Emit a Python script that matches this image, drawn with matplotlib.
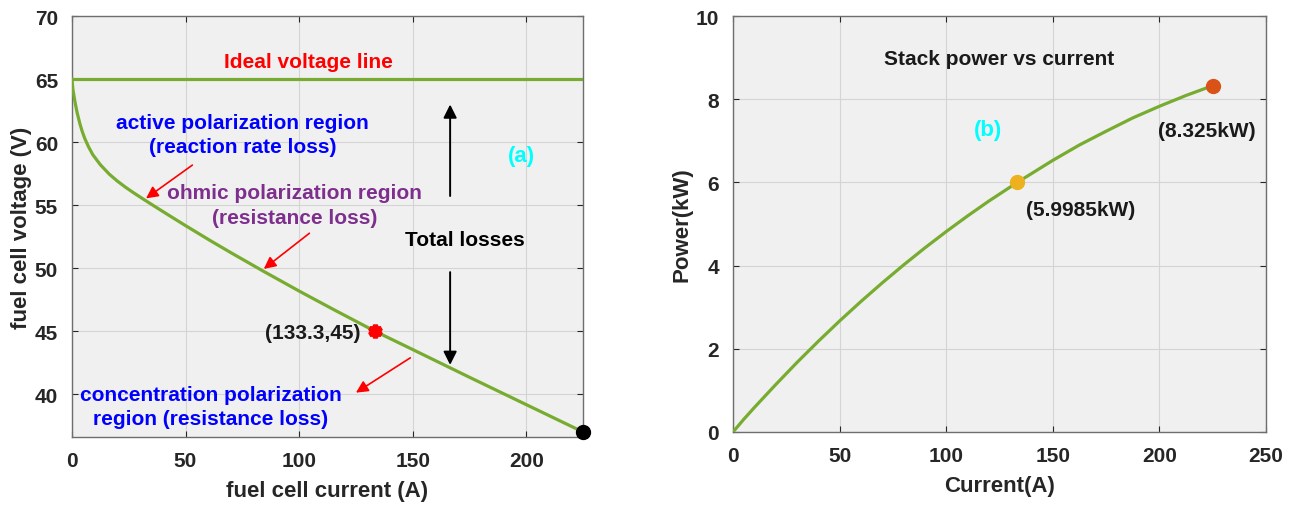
import matplotlib
matplotlib.use("Agg")
from matplotlib import pyplot as plt

plt.rcParams['font.family'] = ['Liberation Sans', 'DejaVu Sans']
plt.rcParams['font.weight'] = 'bold'
plt.rcParams['axes.labelweight'] = 'bold'

# V-I curve
current = [0, 0.4, 1.3, 2.3, 3.5, 4.5, 5.6, 7.3, 9.2, 12.5, 16.5, 20, 23.7, 27.5,
           31.6, 37, 42.4, 50, 61, 70, 84, 100, 115, 133.3, 150, 175, 200, 225]
voltage = [65, 64.2, 63.21, 62.31, 61.45, 60.85, 60.3, 59.62, 58.99, 58.2, 57.44,
           56.9, 56.4, 55.93, 55.45, 54.83, 54.22, 53.37, 52.17, 51.22, 49.78,
           48.18, 46.73, 45.0, 43.54, 41.34, 39.17, 37.0]
ideal_current = [0, 225]
ideal_voltage = [65, 65]

# stack power curve
power_current = [0, 5, 10, 20, 30, 40, 50, 60, 70, 80, 90, 100, 110, 120, 133.3,
                 150, 162.5, 175, 187.5, 200, 212.5, 225]
power_kw = [0, 0.303, 0.588, 1.138, 1.671, 2.18, 2.669, 3.137, 3.585, 4.015,
            4.426, 4.818, 5.193, 5.551, 5.9985, 6.53, 6.90, 7.23, 7.55, 7.83,
            8.09, 8.325]

op_point = (133.3, 45)
end_point = (225, 37)
op_power = (133.3, 5.9985)
max_power = (225, 8.325)

green = '#77ac30'
bg = '#f0f0f0'
grid_c = '#d4d4d4'
fs = 15
tick_fs = 15
label_fs = 16

fig = plt.figure(figsize=(12.99, 5.06), dpi=100)
ax1 = fig.add_axes([0.0554, 0.1344, 0.3934, 0.832])
ax2 = fig.add_axes([0.5643, 0.1443, 0.4103, 0.8221])

for ax in (ax1, ax2):
    ax.set_facecolor(bg)
    ax.grid(True, color=grid_c, linewidth=0.8)
    ax.set_axisbelow(True)
    for s in ax.spines.values():
        s.set_color('#6e6e6e')
        s.set_linewidth(1.0)
    ax.tick_params(labelsize=tick_fs, colors='#262626', direction='in', length=4,
                   top=True, right=True, pad=10)

# ---- panel (a)
ax1.plot(ideal_current, ideal_voltage, color=green, lw=2.3, zorder=3)
ax1.plot(current, voltage, color=green, lw=2.3, zorder=3)
ax1.plot(*op_point, marker=(6, 1, 0), color='red', mec='red', mew=3.5, ms=9, zorder=4)
ax1.plot(*end_point, marker='o', color='black', ms=10, zorder=4, clip_on=False)
ax1.set_xlim(0, 225)
ax1.set_ylim(36.6, 70)
ax1.set_xticks([0, 50, 100, 150, 200])
ax1.set_yticks([40, 45, 50, 55, 60, 65, 70])
ax1.set_xlabel('fuel cell current (A)', fontsize=label_fs, color='#262626', labelpad=7)
ax1.set_ylabel('fuel cell voltage (V)', fontsize=label_fs, color='#262626', labelpad=2)

ax1.text(104, 66.4, 'Ideal voltage line', color='red', fontsize=fs,
         ha='center', va='center')
ax1.text(75, 60.6, 'active polarization region\n(reaction rate loss)', color='blue',
         fontsize=fs, ha='center', va='center', linespacing=1.35)
ax1.text(98, 55.0, 'ohmic polarization region\n(resistance loss)', color='#7e2f8e',
         fontsize=fs, ha='center', va='center', linespacing=1.35)
ax1.text(173, 52.3, 'Total losses', color='black', fontsize=fs,
         ha='center', va='center')
ax1.text(198, 58.9, '(a)', color='cyan', fontsize=fs + 1, ha='center', va='center')
ax1.text(127, 44.9, '(133.3,45)', color='#1a1a1a', fontsize=fs,
         ha='right', va='center')
ax1.text(61, 39.0, 'concentration polarization\nregion (resistance loss)', color='blue',
         fontsize=fs, ha='center', va='center', linespacing=1.35)

red_arrow = dict(arrowstyle='-|>', color='red', lw=1.2, mutation_scale=18)
ax1.annotate('', xy=(31.6, 55.4), xytext=(54, 58.3), arrowprops=red_arrow)
ax1.annotate('', xy=(83.5, 49.8), xytext=(105.5, 52.9), arrowprops=red_arrow)
ax1.annotate('', xy=(124, 40.0), xytext=(150, 43.0), arrowprops=red_arrow)
black_arrow = dict(arrowstyle='-|>', color='black', lw=1.4, mutation_scale=20)
ax1.annotate('', xy=(166.5, 63.2), xytext=(166.5, 55.5), arrowprops=black_arrow)
ax1.annotate('', xy=(166.5, 42.1), xytext=(166.5, 49.9), arrowprops=black_arrow)

# ---- panel (b)
ax2.plot(power_current, power_kw, color=green, lw=2.3, zorder=3)
ax2.plot(*op_power, marker='o', color='#edb120', ms=10, zorder=4)
ax2.plot(*max_power, marker='o', color='#d95319', ms=10, zorder=4)
ax2.set_xlim(0, 250)
ax2.set_ylim(0, 10)
ax2.set_xticks([0, 50, 100, 150, 200, 250])
ax2.set_yticks([0, 2, 4, 6, 8, 10])
ax2.set_xlabel('Current(A)', fontsize=label_fs, color='#262626', labelpad=7)
ax2.set_ylabel('Power(kW)', fontsize=label_fs, color='#262626', labelpad=2)

ax2.text(125, 8.98, 'Stack power vs current', color='#1a1a1a', fontsize=fs,
         ha='center', va='center')
ax2.text(119.5, 7.26, '(b)', color='cyan', fontsize=fs + 1, ha='center', va='center')
ax2.text(137.5, 5.36, '(5.9985kW)', color='#1a1a1a', fontsize=fs,
         ha='left', va='center')
ax2.text(199.5, 7.25, '(8.325kW)', color='#1a1a1a', fontsize=fs,
         ha='left', va='center')

fig.savefig('out.png', dpi=100)
